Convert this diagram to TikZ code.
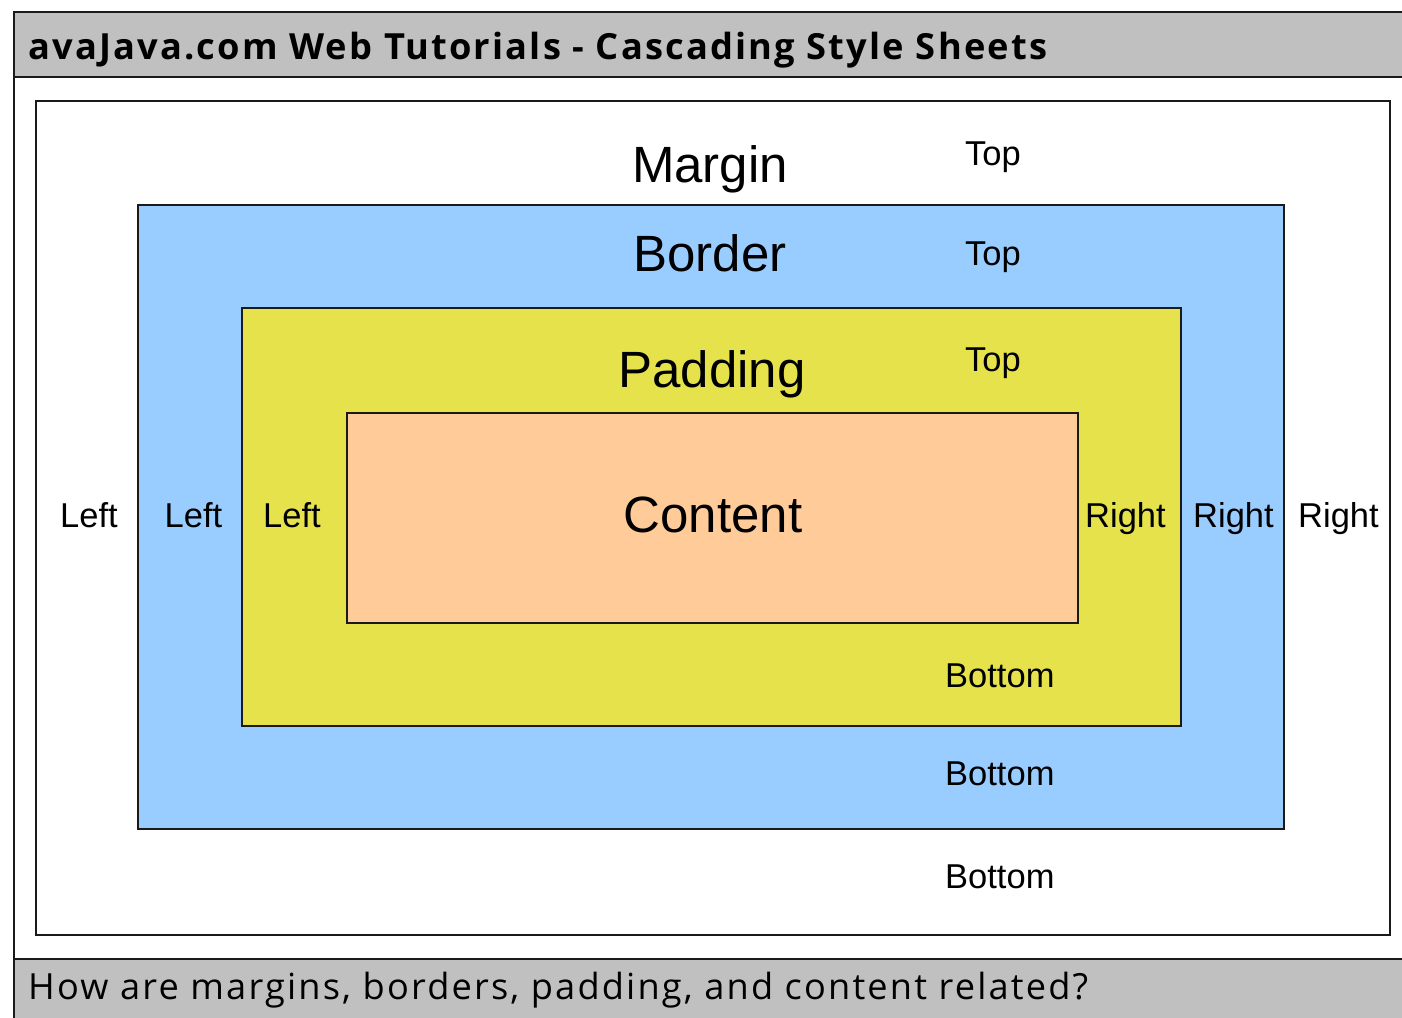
\documentclass[tikz,border=0pt]{standalone}
\usepackage{fontspec}
\usepackage{graphicx}
\setmainfont{Liberation Sans}
\newfontfamily\headfont[LetterSpace=6]{Open Sans}
\definecolor{hdrgray}{HTML}{C0C0C0}
\definecolor{borderblue}{HTML}{99CCFF}
\definecolor{padyellow}{HTML}{E6E24B}
\definecolor{contentpeach}{HTML}{FFCC99}
\definecolor{lineclr}{HTML}{1A1A1A}
\tikzset{
  boxline/.style={draw=lineclr, line width=2pt},
  biglabel/.style={anchor=base, inner sep=0pt, font=\fontsize{51}{60}\selectfont},
  smalllabel/.style={anchor=base, inner sep=0pt, font=\fontsize{34.5}{40}\selectfont},
  toplabel/.style={anchor=base west, inner sep=0pt, font=\fontsize{34.5}{40}\selectfont},
  barlabel/.style={anchor=base west, inner sep=0pt},
}
\begin{document}
\begin{tikzpicture}[x=1pt,y=-1pt]
\useasboundingbox (0,0) rectangle (1402,1017);
\fill[white] (0,0) rectangle (1402,1017);
% header and footer bars
\fill[hdrgray] (14,12) rectangle (1404,77);
\fill[hdrgray] (14,959) rectangle (1404,1019);
\draw[boxline] (1404,12) -- (14,12) -- (14,1019);
\draw[boxline] (14,77) -- (1404,77);
\draw[boxline] (14,959) -- (1404,959);
% nested boxes
\draw[boxline, fill=white] (36,101) rectangle (1390,935);
\draw[boxline, fill=borderblue] (138,205) rectangle (1284,829);
\draw[boxline, fill=padyellow] (242,308) rectangle (1181,726);
\draw[boxline, fill=contentpeach] (347,413) rectangle (1078,623);
% header / footer text
\node[barlabel] (title) at (28,59) {\resizebox{1019pt}{\height}{\headfont\bfseries\fontsize{36}{42}\selectfont avaJava.com Web Tutorials - Cascading Style Sheets}};
\node[barlabel] (question) at (28,999) {\resizebox{1060pt}{\height}{\headfont\fontsize{36}{42}\selectfont How are margins, borders, padding, and content related?}};
% big labels
\node[biglabel] (margin) at (710,182) {Margin};
\node[biglabel] (border) at (710,271) {Border};
\node[biglabel] (padding) at (712,387) {Padding};
\node[biglabel] (content) at (713,532) {Content};
% top labels
\node[toplabel] (mtop) at (965,165) {Top};
\node[toplabel] (btop) at (965,265) {Top};
\node[toplabel] (ptop) at (965,371) {Top};
% left labels
\node[smalllabel] (mleft) at (89,527) {Left};
\node[smalllabel] (bleft) at (193.5,527) {Left};
\node[smalllabel] (pleft) at (292,527) {Left};
% right labels
\node[smalllabel] (pright) at (1125.5,527) {Right};
\node[smalllabel] (bright) at (1233.5,527) {Right};
\node[smalllabel] (mright) at (1338.5,527) {Right};
% bottom labels
\node[toplabel] (pbottom) at (945,687) {Bottom};
\node[toplabel] (bbottom) at (945,785) {Bottom};
\node[toplabel] (mbottom) at (945,888) {Bottom};
\end{tikzpicture}
\end{document}
